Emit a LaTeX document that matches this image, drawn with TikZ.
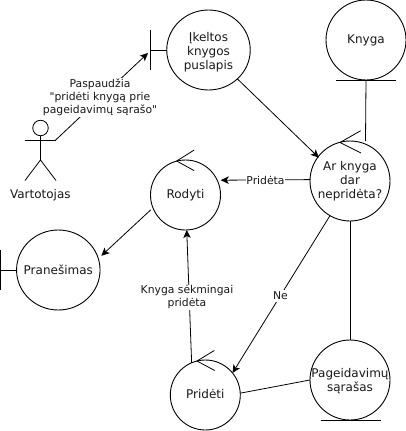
\documentclass[tikz,border=0pt]{standalone}
\usepackage{fontspec}
\setmainfont{DejaVu Sans}[Ligatures=TeXOff]
\usetikzlibrary{shapes.geometric,arrows.meta}
\tikzset{
  ent/.style={ellipse,draw=black,line width=0.9pt,inner sep=0pt,outer sep=0pt},
  txt/.style={align=center,font=\fontsize{12}{14}\selectfont,text=black!90,inner sep=0pt},
  edgelbl/.style={align=center,font=\fontsize{10.8}{13}\selectfont,fill=white,inner xsep=0.5pt,inner ysep=1pt,text=black!90},
  conn/.style={draw=black,line width=0.8pt},
  arr/.style={conn,-{Stealth[length=8pt,width=7.5pt,inset=2pt]}}
}
\begin{document}
\begin{tikzpicture}[x=1pt,y=-1pt]
\useasboundingbox (0,0) rectangle (406,431);
\fill[white] (0,0) rectangle (406,431);
% circles
\node[ent,minimum width=83.5pt,minimum height=80pt,label={[txt,yshift=-2.5pt]center:Įkeltos\\knygos\\puslapis}] (ik) at (208.5,50) {};
\node[ent,minimum width=80pt,minimum height=80pt,label={[txt,yshift=-0.5pt]center:Knyga}] (kn) at (366,40) {};
\node[ent,minimum width=80pt,minimum height=80pt,label={[txt]center:Ar knyga\\dar\\nepridėta?}] (ar) at (350,181) {};
\node[ent,minimum width=70pt,minimum height=70pt,label={[txt]center:Rodyti}] (ro) at (185.5,195) {};
\node[ent,minimum width=83.5pt,minimum height=80pt,label={[txt]center:Pranešimas}] (pr) at (58.3,270) {};
\node[ent,minimum width=70pt,minimum height=70pt,label={[txt,yshift=1pt]center:Pridėti}] (pd) at (205.3,395) {};
\node[ent,minimum width=80pt,minimum height=80pt,label={[txt,yshift=-1.5pt]center:Pageidavimų\\sąrašas}] (pg) at (350,380) {};
% boundary marks
\coordinate (ikb) at (150.5,50);
\coordinate (ikt) at (148,53);
\coordinate (prb) at (0.6,270);
\draw[conn] (150.5,30) -- (150.5,70);
\draw[conn] (ikb) -- (ik.west);
\draw[conn] (0.6,250) -- (0.6,290);
\draw[conn] (prb) -- (pr.west);
% entity bars
\draw[conn] (335.5,80.5) -- (395.5,80.5);
\draw[conn] (320.5,420.5) -- (380.5,420.5);
% control arrow marks
\draw[conn] (360.7,130.7) -- (340,142.5) -- (361,153);
\draw[conn] (194.2,150) -- (176.7,161) -- (194.2,170.7);
\draw[conn] (214.3,350.5) -- (197,361) -- (214.7,370.5);
% actor
\coordinate (hand) at (55.7,140);
\node[circle,draw=black,line width=0.8pt,minimum size=15.5pt,inner sep=0pt] (head) at (40.5,128) {};
\coordinate (hip) at (40.5,160);
\draw[conn] (head.south) -- (hip);
\draw[conn] (25,140) -- (hand);
\draw[conn] (25,180.5) -- (hip) -- (56,180.5);
\node[txt] (vart) at (40.3,195.5) {Vartotojas};
% connectors
\draw[arr] (hand) -- (ikt);
\draw[arr] (ik.-45) -- ([xshift=2pt,yshift=1pt]ar.146);
\draw[arr] (ar.178) -- ([xshift=3.5pt]ro.25);
\draw[arr] ([xshift=-3pt]ro.205) -- ([xshift=4pt]pr.20);
\draw[arr] (pd.113) -- (ro.-88);
\draw[arr] (ar.240) -- (pd.39);
\draw[conn] (pd.3) -- (pg.180);
\coordinate (knb) at (365.5,141);
\draw[conn] (kn.south) -- (knb);
\draw[conn] (ar.south) -- (pg.north);
% edge labels
\node[edgelbl] (l1) at (100,97.5) {Paspaudžia\\"pridėti knygą prie\\pageidavimų sąrašo"};
\node[edgelbl] (l2) at (265.5,180) {Pridėta};
\node[edgelbl,inner ysep=2pt] (l3) at (280.5,296) {Ne};
\node[edgelbl] (l4) at (187,297.5) {Knyga sėkmingai\\pridėta};
\end{tikzpicture}
\end{document}
